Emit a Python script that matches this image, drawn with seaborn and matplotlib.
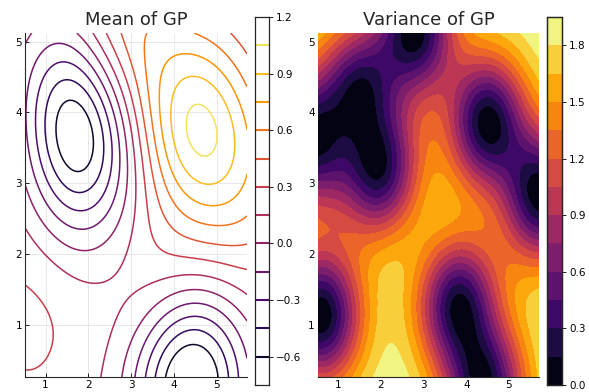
import numpy as np
import matplotlib
matplotlib.use("Agg")
import matplotlib.pyplot as plt
import seaborn as sns

# Training inputs (two predictors) and observed responses
x1_obs = [1.50, 1.85, 0.52, 2.76, 4.53, 5.71, 0.60, 3.89, 4.35]
x2_obs = [4.12, 3.38, 3.67, 5.12, 3.83, 2.87, 1.14, 1.14, 0.27]
y_obs = [-0.62, -0.67, -0.12, 0.45, 1.10, 0.70, 0.33, -0.18, -0.80]

# Kernel hyperparameters (squared exponential) and constant prior mean
prior_mean = 0.20
signal_var = 1.97
length_scale = 0.95
noise_var = 0.012

# Contour levels and colour limits
mean_levels = np.round(np.arange(-0.6, 1.06, 0.15), 2)
mean_clim = (-0.75, 1.2)
mean_ticks = [-0.6, -0.3, 0.0, 0.3, 0.6, 0.9, 1.2]
var_levels = np.round(np.arange(0.0, 1.96, 0.15), 2)
var_ticks = [0.0, 0.3, 0.6, 0.9, 1.2, 1.5, 1.8]


def kernel(a, b):
    d2 = ((a[:, None, :] - b[None, :, :]) ** 2).sum(-1)
    return signal_var * np.exp(-0.5 * d2 / length_scale ** 2)


X = np.column_stack([x1_obs, x2_obs])
y = np.asarray(y_obs)
gx = np.linspace(X[:, 0].min(), X[:, 0].max(), 160)
gy = np.linspace(X[:, 1].min(), X[:, 1].max(), 160)
GX, GY = np.meshgrid(gx, gy)
Xs = np.column_stack([GX.ravel(), GY.ravel()])

K = kernel(X, X) + noise_var * np.eye(len(X))
Ks = kernel(Xs, X)
mu = (prior_mean + Ks @ np.linalg.solve(K, y - prior_mean)).reshape(GX.shape)
var = (signal_var - np.sum(Ks * np.linalg.solve(K, Ks.T).T, axis=1)).reshape(GX.shape)

sns.set_style("ticks")
plt.rcParams["font.family"] = ["DejaVu Sans"]
cmap = sns.color_palette("inferno", as_cmap=True)

W, H = 589, 392
fig = plt.figure(figsize=(W / 100, H / 100), dpi=100)
ax1 = fig.add_axes([25 / W, 15 / H, 222 / W, 344 / H])
cax1 = fig.add_axes([255 / W, 7 / H, 14 / W, 368 / H])
ax2 = fig.add_axes([317.7 / W, 15 / H, 221.6 / W, 344 / H])
cax2 = fig.add_axes([547 / W, 7 / H, 15 / W, 368 / H])

# Mean of GP: contour lines
norm1 = matplotlib.colors.Normalize(*mean_clim)
ax1.contour(GX, GY, mu, levels=mean_levels, cmap=cmap, norm=norm1, linewidths=1.1)
ax1.set_xticks([1, 2, 3, 4, 5])
ax1.set_yticks([1, 2, 3, 4, 5])
ax1.grid(True, color="#e4e4e4", linewidth=0.6)
ax1.set_axisbelow(True)
ax1.set_title("Mean of GP", fontsize=13, pad=6)
for s in ("top", "right"):
    ax1.spines[s].set_visible(False)

cax1.set_ylim(*mean_clim)
cax1.set_xlim(0, 1)
for lv in mean_levels:
    cax1.axhline(lv, color=cmap(norm1(lv)), linewidth=1.5)
cax1.set_xticks([])
cax1.yaxis.tick_right()
cax1.set_yticks(mean_ticks)
cax1.set_yticklabels([f"{t:.1f}".replace("-", "\u2212") for t in mean_ticks])

# Variance of GP: filled contours
norm2 = matplotlib.colors.Normalize(var_levels[0], var_levels[-1])
cf = ax2.contourf(GX, GY, var, levels=var_levels, cmap=cmap, norm=norm2, extend="neither")
ax2.set_xticks([1, 2, 3, 4, 5])
ax2.set_yticks([1, 2, 3, 4, 5])
ax2.set_title("Variance of GP", fontsize=13, pad=6)
for s in ("top", "right", "left"):
    ax2.spines[s].set_visible(False)
cb2 = fig.colorbar(cf, cax=cax2, ticks=var_ticks)
cb2.ax.set_yticklabels([f"{t:.1f}" for t in var_ticks])

for ax in (ax1, ax2, cax1, cax2):
    ax.tick_params(labelsize=7.5, length=3, width=0.6, colors="black", pad=2)
for ax in (ax1, ax2):
    ax.tick_params(direction="in")
for ax in (cax1, cax2):
    for s in ax.spines.values():
        s.set_visible(True)
        s.set_linewidth(0.9)

fig.savefig("out.png", dpi=100)
